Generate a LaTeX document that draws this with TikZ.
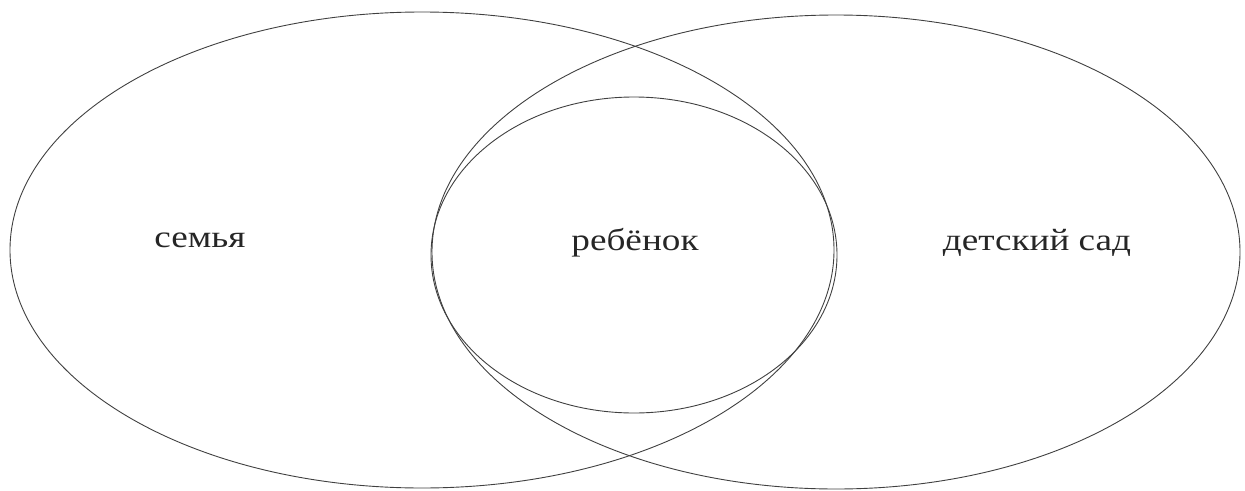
\documentclass[tikz,border=0pt]{standalone}
\usepackage{fontspec}
\setmainfont{Liberation Serif}
\usetikzlibrary{shapes.geometric}
\newcommand{\widetext}[1]{\scalebox{1.2}[1]{#1}}
\begin{document}
\begin{tikzpicture}[x=1pt,y=-1pt,
  ring/.style={draw=black!75, line width=0.9pt, ellipse, inner sep=0pt},
  lbl/.style={font=\fontsize{31}{36}\selectfont, text=black!85, inner sep=0pt}]
\useasboundingbox (0,0) rectangle (1245,490);
\node[ring, minimum width=824, minimum height=476] (fam) at (422,250) {};
\node[ring, minimum width=808, minimum height=474] (kg) at (836,252) {};
\node[ring, minimum width=406, minimum height=316] (child) at (634,255) {};
\node[lbl] (tfam) at (200,240) {\widetext{семья}};
\node[lbl] (tchild) at (635,243) {\widetext{ребёнок}};
\node[lbl] (tkg) at (1037,243) {\widetext{детский сад}};
\end{tikzpicture}
\end{document}
